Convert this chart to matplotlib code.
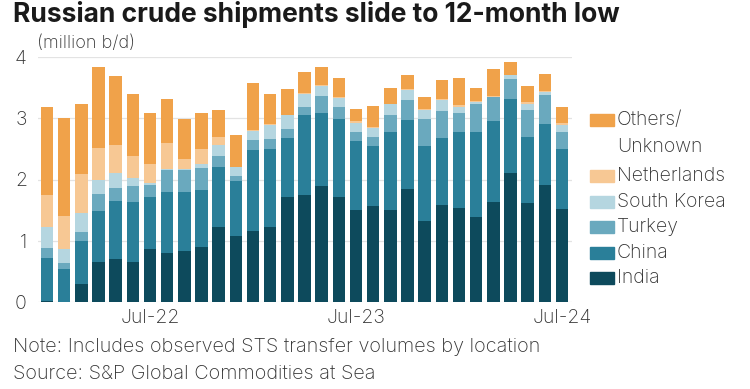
import matplotlib
matplotlib.use("Agg")
import matplotlib.pyplot as plt
from matplotlib.patches import Rectangle
import numpy as np

plt.rcParams['font.family'] = ['Inter', 'DejaVu Sans']

months = ["Jan-22", "Feb-22", "Mar-22", "Apr-22", "May-22", "Jun-22", "Jul-22", "Aug-22",
          "Sep-22", "Oct-22", "Nov-22", "Dec-22", "Jan-23", "Feb-23", "Mar-23", "Apr-23",
          "May-23", "Jun-23", "Jul-23", "Aug-23", "Sep-23", "Oct-23", "Nov-23", "Dec-23",
          "Jan-24", "Feb-24", "Mar-24", "Apr-24", "May-24", "Jun-24", "Jul-24"]

india = [0.01, 0.00, 0.29, 0.65, 0.71, 0.66, 0.86, 0.80, 0.84, 0.89, 1.22, 1.07, 1.16, 1.23, 1.72, 1.75,
         1.89, 1.72, 1.51, 1.56, 1.51, 1.85, 1.33, 1.58, 1.53, 1.38, 1.64, 2.11, 1.61, 1.91, 1.52]
china = [0.71, 0.54, 0.71, 0.84, 0.94, 0.98, 0.85, 1.00, 0.95, 0.94, 0.98, 0.91, 1.32, 1.26, 0.96, 1.31,
         1.19, 1.27, 1.12, 0.98, 1.26, 1.12, 1.21, 1.10, 1.24, 1.40, 1.31, 1.20, 1.08, 1.00, 0.97]
turkey = [0.16, 0.09, 0.15, 0.28, 0.21, 0.26, 0.20, 0.36, 0.37, 0.35, 0.19, 0.08, 0.17, 0.17, 0.15, 0.12,
          0.28, 0.19, 0.15, 0.15, 0.28, 0.33, 0.45, 0.44, 0.32, 0.45, 0.39, 0.33, 0.45, 0.47, 0.28]
south_korea = [0.34, 0.24, 0.31, 0.22, 0.24, 0.13, 0.03, 0.01, 0.01, 0.08, 0.17, 0.15, 0.15, 0.23, 0.22, 0.21,
               0.17, 0.15, 0.15, 0.15, 0.18, 0.16, 0.15, 0.18, 0.10, 0.04, 0.01, 0.06, 0.09, 0.05, 0.12]
netherlands = [0.53, 0.53, 0.63, 0.53, 0.47, 0.36, 0.31, 0.43, 0.17, 0.23, 0.13, 0.00, 0.01, 0.01, 0.01, 0.03,
               0.01, 0.01, 0.02, 0.01, 0.01, 0.02, 0.01, 0.02, 0.03, 0.01, 0.01, 0.01, 0.03, 0.02, 0.03]
others = [1.44, 1.61, 1.14, 1.32, 1.12, 1.01, 0.83, 0.71, 0.64, 0.60, 0.45, 0.51, 0.77, 0.50, 0.42, 0.33,
          0.29, 0.32, 0.20, 0.35, 0.26, 0.23, 0.19, 0.31, 0.44, 0.21, 0.44, 0.21, 0.27, 0.27, 0.27]

series_names = ["India", "China", "Turkey", "South Korea", "Netherlands", "Others/\nUnknown"]
series_values = [india, china, turkey, south_korea, netherlands, others]
series_colors = ["#0D4A5C", "#2A7F99", "#6AA9BE", "#B5D6E0", "#F7C894", "#F0A24A"]

xtick_labels = ["Jul-22", "Jul-23", "Jul-24"]
yticks = [0, 1, 2, 3, 4]

W, H = 750, 389
fig = plt.figure(figsize=(7.5, 3.89), dpi=100)
ax = fig.add_axes([38 / W, 1 - 302 / H, (572 - 38) / W, (302 - 57) / H])

x = np.arange(len(months))
bottom = np.zeros(len(months))
for name, vals, col in zip(series_names, series_values, series_colors):
    v = np.array(vals)
    ax.bar(x, v, bottom=bottom, width=0.73, color=col, linewidth=0, label=name, zorder=2)
    bottom += v

ax.set_xlim(-0.52, len(months) - 1 + 0.58)
ax.set_ylim(0, 4)
ax.set_yticks(yticks)
ax.set_yticklabels([str(t) for t in yticks])
ax.set_xticks([months.index(m) for m in xtick_labels])
ax.set_xticklabels(xtick_labels)
ax.tick_params(axis='both', length=0, labelsize=14, colors='#333333')
ax.tick_params(axis='y', pad=8)
ax.tick_params(axis='x', pad=5)
for lab in ax.get_xticklabels() + ax.get_yticklabels():
    lab.set_fontweight('light')
ax.grid(axis='y', color='#E3E3E3', linewidth=0.9, zorder=0)
ax.set_axisbelow(True)
for s in ax.spines.values():
    s.set_visible(False)

def fx(px):
    return px / W

def fy(py):
    return 1 - py / H

fig.text(fx(13), fy(0.5), "Russian crude shipments slide to 12-month low", fontsize=19,
         fontweight='bold', color='#1a1a1a', va='top', ha='left')
fig.text(fx(37), fy(44), "(million b/d)", fontsize=13, fontweight='light', color='#333333',
         va='center', ha='left')
fig.text(fx(13), fy(347), "Note: Includes observed STS transfer volumes by location", fontsize=14.3,
         fontweight='light', color='#333333', va='center', ha='left')
fig.text(fx(13), fy(374), "Source: S&P Global Commodities at Sea", fontsize=14.3,
         fontweight='light', color='#333333', va='center', ha='left')

# legend (top to bottom: Others ... India)
leg_y = {"Others/\nUnknown": 120, "Netherlands": 176, "South Korea": 201.5,
         "Turkey": 227, "China": 252.5, "India": 278}
for name, col in zip(series_names, series_colors):
    cy = leg_y[name]
    fig.patches.append(Rectangle((fx(590), fy(cy + 6)), 24 / W, 12 / H, transform=fig.transFigure,
                                 color=col, figure=fig))
    lines = name.split("\n")
    for i, ln in enumerate(lines):
        fig.text(fx(617), fy(cy + i * 27), ln, fontsize=14, fontweight='light', color='#333333',
                 va='center', ha='left')

fig.savefig("out.png", dpi=100, facecolor='white')
